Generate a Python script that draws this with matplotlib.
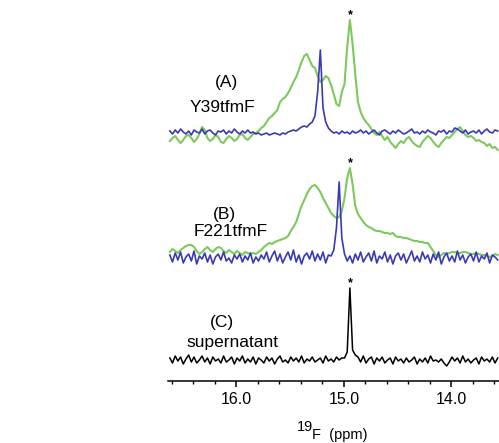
import matplotlib
matplotlib.use("Agg")
import matplotlib.pyplot as plt
import numpy as np
from matplotlib.ticker import MultipleLocator, FixedLocator, FormatStrFormatter

plt.rcParams['font.family'] = ['Liberation Sans', 'DejaVu Sans']

# chemical shift axis (ppm), one sample per ~0.025 ppm
ppm = np.linspace(16.62, 13.57, 123)

# (A) Y39tfmF, heights above baseline (arbitrary units)
a_green = ([-9, -6, -4, -8, -11, -8, -4, -3, -6, -10, -7, -2, 5, 2, -6, -9, -7, -3, -5, -10,
            -11, -7, -4, -6, -9, -7, -3, -2, -6, -8, -5, -2, -1]
           + [1, 4, 6, 10, 14, 16, 19, 22, 30, 33, 35, 39, 44, 50, 55, 62, 70, 76, 78, 72,
              66, 64, 56, 50, 52, 56, 54, 47, 38, 28, 26, 40, 48, 85, 112, 88, 58, 30, 20, 14,
              10, 7, 3, -1]
           + [-3, 0, -4, -8, -5, -10, -13, -16, -12, -9, -11, -7, -5, -9, -12, -14, -15, -10,
              -7, -4, -6, -10, -13, -15, -11, -8, -5, -6, -3, 0, 3, 5, 1, -3, -5, -4, -6, -9,
              -8, -10, -11, -14, -12, -16, -15, -18])
a_blue = ([1, -2, 2, -1, 3, 0, -2, 1, -3, 2, 0, -1, 3, -2, 1, 2, -1, -3, 1, 0,
           2, -2, 1, -1, 3, 0, -2, 1, -1, 2, -1, 0, -2, -1, -3, -2, -1, -3, -2, -1,
           -2, -3, -1, -2, 0, 1]
          + [2, 1, 3, 5, 6, 5, 8, 10, 16, 40, 82, 24, 10, 4, 1, -1, 0, -2, 1, -1,
             0, -2, 1, -1, 0]
          + [2, -1, 1, -2, 0, 2, -1, -3, 1, 2, 0, -2, 1, -1, 2, 0, -2, -1, 1, 3,
             -1, 0, -2, 1, -1, 2, 0, -1, -3, 1, 0, 2, -2, 1, 0, 4, 3, 1, -1, 2,
             -2, 0, 1, -1, 2, -2, 1, 3, 0, -1, 2, 1])

# (B) F221tfmF
b_green = ([6, 9, 7, 5, 8, 10, 12, 13, 13, 11, 7, 4, 6, 9, 11, 8, 6, 9, 11, 10,
            7, 5, 8, 6, 4, 7, 5, 3, 6, 5, 4, 5, 4]
           + [6, 8, 11, 13, 15, 14, 16, 17, 18, 19, 20, 22, 27, 31, 36, 44, 52, 58, 64, 69,
              72, 73, 70, 66, 60, 55, 50, 45, 42, 40, 41, 47, 60, 80, 90, 74, 52, 44, 40, 36,
              33, 31, 30, 28]
           + [27, 27, 26, 25, 25, 24, 25, 22, 21, 21, 20, 20, 19, 18, 17, 17, 16, 16, 15, 15,
              11, 7, 3, 1, 3, 5, 4, 5, 6, 6, 5, 5, 6, 6, 5, 4, 4, 5, 4, 3,
              3, 2, 1, 2, 4, 3])
b_blue = ([3, -4, 5, -2, 6, -5, 1, 4, -3, 7, -6, 2, -1, 5, -4, 3, -6, 1, 4, -2,
           6, -3, 0, -5, 3, -1, 4, -4, 2, -2, 5, -5, 1, -3, 3, -1, 6, -4, 2, 7,
           -3, 4, -5, 1, 6, -2, 8, -4, 3, -6, 2, 5, -1, 7, -3, 4, -2, 6, -5, 3,
           2, 8]
          + [30, 76, 20, 4, -3, 2, -5]
          + [4, -2, 6, -4, 1, 5, -3, 7, -5, 2, -1, 6, -4, 3, -6, 2, 5, -2, 4, -5,
             1, 7, -3, 2, -4, 6, -1, 3, -5, 4, -2, 6, -6, 1, 5, -3, 2, -4, 7, -2,
             3, -5, 1, 4, -3, 6, -4, 2, -1, 5, -5, 3, 1, -2])

# (C) supernatant
c_black = ([2, -3, 4, -1, 3, -4, 1, 5, -2, 3, -3, 0, 4, -2, 2, -4, 3, -1, 1, -3,
            4, -2, 0, 3, -4, 2, -1, 4, -3, 1, -2, 3, -4, 2, 0, -3, 3, -1, 2, -4,
            1, 4, -2, 0, -3, 3, -1, 2, -2, 4, -3, 1, -1, 3, -2, 0, 2, -3, 4, -1,
            1, -2, 3, 0, 2]
           + [2, 8, 72, 10, 5]
           + [3, -2, 4, -3, 1, 3, -4, 2, -1, 3, -3, 0, 2, -4, 3, -1, 1, -3, 2, -2,
              0, 3, -4, 1, -2, 2, -3, 4, -1, 0, -2, 1, -3, -6, -2, 3, -1, 2, -3, 4,
              -2, 1, -3, 0, 2, -4, 3, -1, 1, -2, 3, -3, 2])

labels = [("(A)", "Y39tfmF"), ("(B)", "F221tfmF"), ("(C)", "supernatant")]
offsets = [249, 123, 21]

green = '#7dc95e'
blue = '#3a3ab4'

W, H = 499, 443
fig = plt.figure(figsize=(W / 100, H / 100), dpi=100)
fig.set_facecolor('white')
ax = fig.add_axes([168 / W, 62 / H, 331 / W, 381 / H])

ax.plot(ppm, np.array(a_green) + offsets[0], color=green, lw=1.5, zorder=2)
ax.plot(ppm, np.array(a_blue) + offsets[0], color=blue, lw=1.2, zorder=3)
ax.plot(ppm, np.array(b_green) + offsets[1], color=green, lw=1.5, zorder=2)
ax.plot(ppm, np.array(b_blue) + offsets[1], color=blue, lw=1.2, zorder=3)
ax.plot(ppm, np.array(c_black) + offsets[2], color='black', lw=1.1, zorder=3)

# asterisks on the reference peak
for trace, off in [(a_green, offsets[0]), (b_green, offsets[1]), (c_black, offsets[2])]:
    i = int(np.argmax(trace))
    ax.annotate('*', xy=(ppm[i], trace[i] + off), xytext=(0, -1), textcoords='offset points',
                ha='center', va='bottom', fontsize=9, fontweight='bold')

ax.set_xlim(16.637, 13.558)
ax.set_ylim(0, 381)
for s in ['top', 'left', 'right']:
    ax.spines[s].set_visible(False)
ax.spines['bottom'].set_linewidth(1.1)
ax.yaxis.set_visible(False)
ax.xaxis.set_major_locator(FixedLocator([16.0, 15.0, 14.0]))
ax.xaxis.set_major_formatter(FormatStrFormatter('%.1f'))
ax.xaxis.set_minor_locator(MultipleLocator(0.2))
ax.tick_params(axis='x', which='major', direction='out', length=4, width=1.1,
               labelsize=11.5, pad=4)
ax.tick_params(axis='x', which='minor', direction='out', length=2.5, width=1)

# panel labels (pixel positions in the figure)
label_pos = [((226, 83), (222, 107)), ((224, 215), (231, 232)), ((222, 323), (232, 342))]
for (top, bottom), ((x1, y1), (x2, y2)) in zip(labels, label_pos):
    fig.text(x1 / W, 1 - y1 / H, top, ha='center', va='center', fontsize=12.5)
    fig.text(x2 / W, 1 - y2 / H, bottom, ha='center', va='center', fontsize=12.5)

# axis label: 19F (ppm)
fig.text(305 / W, 1 - 427 / H, '19', ha='center', va='center', fontsize=10.5)
fig.text(312 / W, 1 - 435 / H, 'F  (ppm)', ha='left', va='center', fontsize=10.5)

fig.savefig('out.png', dpi=100, facecolor='white')
